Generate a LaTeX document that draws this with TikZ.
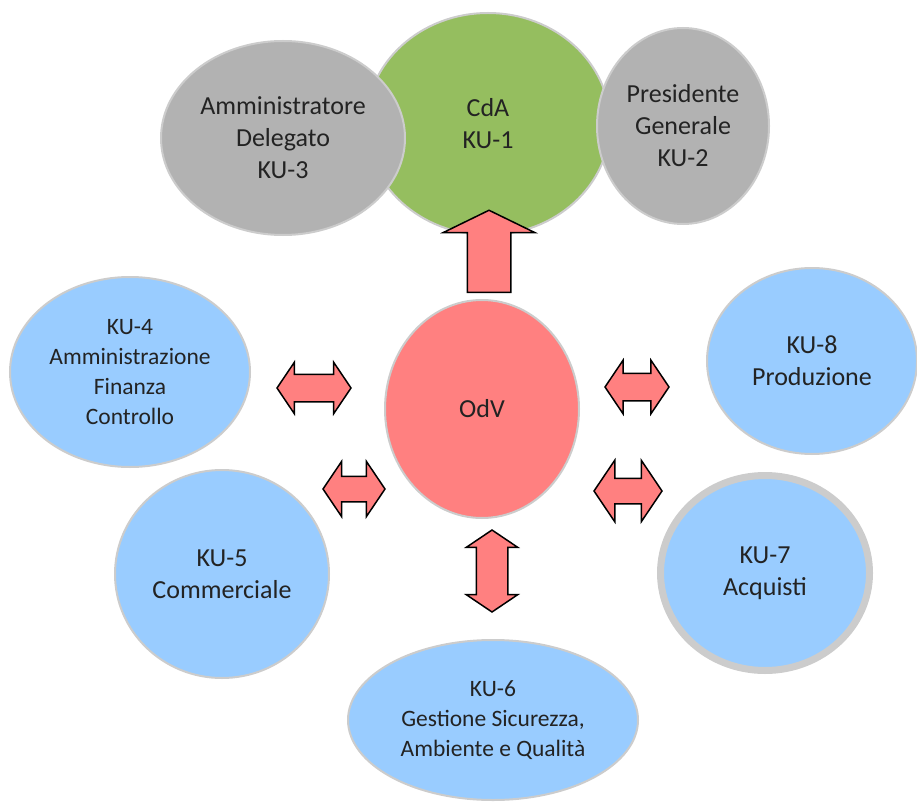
\documentclass[tikz,border=0pt]{standalone}
\usepackage{fontspec}
\setmainfont{Carlito}
\usetikzlibrary{shapes.geometric,shapes.arrows}
\definecolor{cdagreen}{RGB}{149,190,95}
\definecolor{boardgray}{RGB}{178,178,178}
\definecolor{ringgray}{RGB}{204,204,204}
\definecolor{odvred}{RGB}{255,128,128}
\definecolor{deptblue}{RGB}{153,204,255}
\definecolor{textdark}{RGB}{35,35,35}
\tikzset{
  unit/.style={ellipse, draw=ringgray, line width=2pt, inner sep=0pt, align=center,
    text=textdark, font=\fontsize{26}{32}\selectfont},
  board/.style={unit, fill=boardgray},
  dept/.style={unit, fill=deptblue},
  smalltext/.style={font=\fontsize{23.5}{30}\selectfont},
  link/.style={double arrow, draw=black, line width=1.5pt, fill=odvred,
    inner xsep=0pt, double arrow tip angle=112},
}
\begin{document}
\begin{tikzpicture}[x=1pt,y=-1pt]
  \useasboundingbox (0,0) rectangle (917,802);
  % top level
  \node[unit, fill=cdagreen, minimum width=244pt, minimum height=222pt] (cda) at (488,124) {CdA\\KU-1};
  \node[board, minimum width=244pt, minimum height=194pt] (ad) at (283,138) {Amministratore\\Delegato\\KU-3};
  \node[board, minimum width=172pt, minimum height=196pt] (pg) at (683,126) {Presidente\\Generale\\KU-2};
  % organismo di vigilanza
  \node[unit, fill=odvred, minimum width=194pt, minimum height=218pt] (odv) at (482,409) {OdV};
  % key units
  \node[dept, smalltext, minimum width=240pt, minimum height=190pt] (ku4) at (130,372) {KU-4\\Amministrazione\\Finanza\\Controllo};
  \node[dept, minimum width=214pt, minimum height=208pt] (ku5) at (222,574) {KU-5\\Commerciale};
  \node[dept, smalltext, minimum width=290pt, minimum height=160pt] (ku6) at (493,720) {KU-6\\Gestione Sicurezza,\\Ambiente e Qualità};
  \node[dept, line width=7pt, minimum width=209pt, minimum height=195pt] (ku7) at (765,573) {KU-7\\Acquisti};
  \node[dept, minimum width=210pt, minimum height=186pt] (ku8) at (812,361) {KU-8\\Produzione};
  % block arrows
  \node[single arrow, draw=black, line width=1.5pt, fill=odvred, inner xsep=0pt, inner ysep=21pt,
    single arrow head extend=24pt, single arrow tip angle=128, minimum height=82pt,
    rotate=90, anchor=tail] (up) at (489,293) {};
  \node[link, inner ysep=13pt, double arrow head extend=12pt, minimum height=74pt, minimum width=50pt] (a4) at (314,388) {};
  \node[link, inner ysep=12pt, double arrow head extend=15pt, minimum height=62pt, minimum width=55pt] (a5) at (354,489) {};
  \node[link, inner ysep=13pt, double arrow head extend=13pt, minimum height=64pt, minimum width=52pt] (a8) at (637,387) {};
  \node[link, inner ysep=12pt, double arrow head extend=18pt, minimum height=68pt, minimum width=60pt] (a7) at (628,491) {};
  \node[link, inner ysep=15pt, double arrow head extend=10pt, minimum height=82pt, minimum width=51pt, rotate=90] (a6) at (492,571) {};
\end{tikzpicture}
\end{document}
